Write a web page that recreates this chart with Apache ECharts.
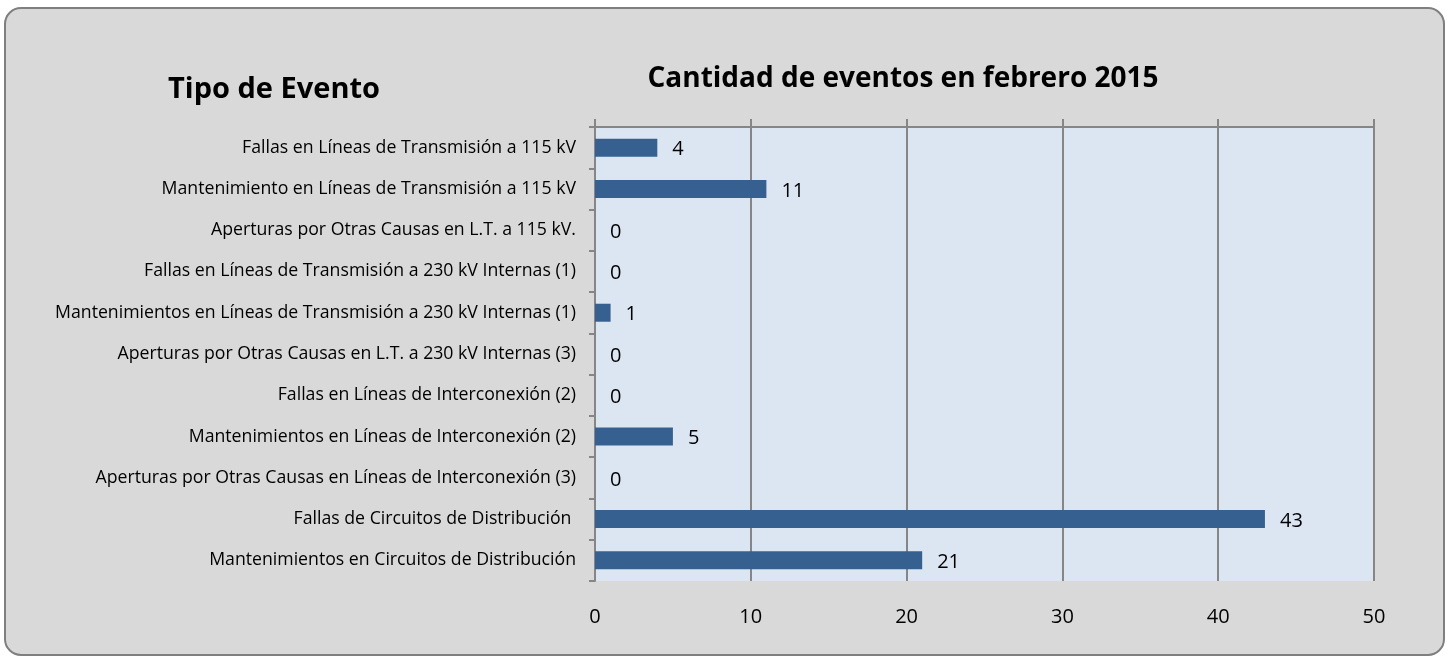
<!DOCTYPE html>
<html lang="es" style="height: 100%">
<head>
  <meta charset="utf-8">
</head>
<body style="height: 100%; margin: 0; background-color: #ffffff">
  <div id="container" style="width: 1451px; height: 662px"></div>

  <script type="text/javascript" src="https://cdn.jsdelivr.net/npm/echarts@6.0.0/dist/echarts.min.js"></script>
  <script type="text/javascript">
    // ---- datos ----
    var categorias = [
      'Fallas en Líneas de Transmisión a 115 kV',
      'Mantenimiento en Líneas de Transmisión a 115 kV',
      'Aperturas por Otras Causas en L.T. a 115 kV.',
      'Fallas en Líneas de Transmisión a 230 kV Internas (1)',
      'Mantenimientos en Líneas de Transmisión a 230 kV Internas (1)',
      'Aperturas por Otras Causas en L.T. a 230 kV Internas (3)',
      'Fallas en Líneas de Interconexión (2)',
      'Mantenimientos en Líneas de Interconexión (2)',
      'Aperturas por Otras Causas en Líneas de Interconexión (3)',
      'Fallas de Circuitos de Distribución ',
      'Mantenimientos en Circuitos de Distribución'
    ];
    var eventos = [4, 11, 0, 0, 1, 0, 0, 5, 0, 43, 21];
    var ejeTicks = [0, 10, 20, 30, 40, 50];

    var fuente = 'Open Sans';
    var gris = '#868686';

    var dom = document.getElementById('container');
    var myChart = echarts.init(dom, null, { renderer: 'canvas' });

    var option = {
      backgroundColor: '#ffffff',
      animation: false,
      textStyle: { fontFamily: fuente },
      graphic: [{
        type: 'rect',
        z: -10,
        shape: { x: 5, y: 8, width: 1439, height: 647, r: 16 },
        style: { fill: '#d9d9d9', stroke: '#7f7f7f', lineWidth: 2 }
      }],
      title: [{
        text: 'Cantidad de eventos en febrero 2015',
        left: 898,
        top: 60,
        textAlign: 'center',
        textStyle: { fontFamily: fuente, fontSize: 28, fontWeight: 'bold', color: '#000' }
      }, {
        text: 'Tipo de Evento',
        left: 269,
        top: 70,
        textAlign: 'center',
        textStyle: { fontFamily: fuente, fontSize: 29, fontWeight: 'bold', color: '#000' }
      }],
      grid: {
        left: 595,
        top: 127,
        width: 779,
        height: 454,
        show: true,
        backgroundColor: '#dce6f2',
        borderWidth: 0
      },
      xAxis: [{
        // eje superior: línea, marcas y rejilla
        type: 'value',
        position: 'top',
        min: ejeTicks[0],
        max: ejeTicks[ejeTicks.length - 1],
        interval: 10,
        axisLine: { show: true, lineStyle: { color: gris, width: 2 } },
        axisTick: { show: true, length: 8, lineStyle: { color: gris, width: 2 } },
        axisLabel: { show: false },
        splitLine: { show: true, lineStyle: { color: gris, width: 2 } }
      }, {
        // etiquetas abajo
        type: 'value',
        position: 'bottom',
        min: ejeTicks[0],
        max: ejeTicks[ejeTicks.length - 1],
        interval: 10,
        axisLine: { show: false },
        axisTick: { show: false },
        splitLine: { show: false },
        axisLabel: { show: true, margin: 26, fontSize: 20, color: '#000', fontFamily: fuente }
      }],
      yAxis: {
        type: 'category',
        inverse: true,
        data: categorias,
        axisLine: { show: true, lineStyle: { color: gris, width: 2 } },
        axisTick: { show: true, length: 6, lineStyle: { color: gris, width: 2 } },
        axisLabel: { margin: 19, fontSize: 17.7, color: '#000', fontFamily: fuente },
        splitLine: { show: false }
      },
      series: [{
        name: 'Eventos',
        type: 'bar',
        xAxisIndex: 0,
        data: eventos,
        barWidth: 18,
        itemStyle: { color: '#36608f' },
        label: {
          show: true,
          position: 'right',
          distance: 15,
          fontSize: 20,
          color: '#000',
          fontFamily: fuente,
          offset: [0, 2]
        }
      }]
    };

    myChart.setOption(option);
    window.addEventListener('resize', myChart.resize);
  </script>
</body>
</html>
